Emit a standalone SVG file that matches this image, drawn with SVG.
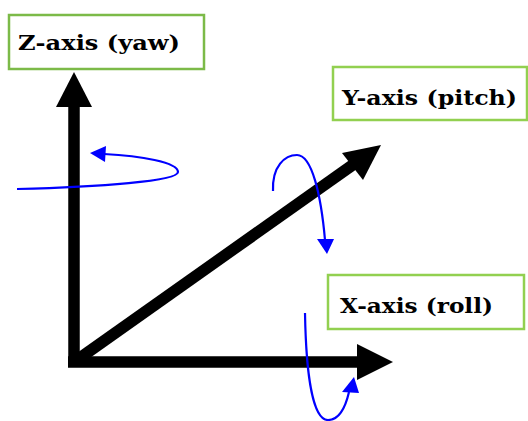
<svg xmlns="http://www.w3.org/2000/svg" width="528" height="421" viewBox="0 0 528 421">
<style>
.box{fill:#fff;stroke-width:2.5}
.lbl{font-family:"DejaVu Serif","Liberation Serif",serif;font-size:21px;font-weight:bold;fill:#000}
.axis{stroke:#000;stroke-width:11.5;fill:none}
.head{fill:#000}
.rot{stroke:#0000ff;stroke-width:2.2;fill:none}
.rhead{fill:#0000ff}
</style>
<rect width="528" height="421" fill="#fff"/>
<g id="connectors">
  <line class="axis" x1="74" y1="367" x2="74" y2="104"/>
  <line class="axis" x1="68" y1="362" x2="359" y2="362"/>
  <line class="axis" x1="77" y1="360" x2="354" y2="164"/>
  <polygon class="head" points="74,72 56,107 92,107"/>
  <polygon class="head" points="393,362 357,344 357,380"/>
  <polygon class="head" points="381,145 342,153 363,180"/>
</g>
<g id="yaw-rotation">
  <path class="rot" d="M17,189 C100,187 178,181 178,172 C178,162 140,156 104,154"/>
  <polygon class="rhead" points="90,153 106,146 105,162"/>
</g>
<g id="pitch-rotation">
  <path class="rot" d="M273,191 C272,166 285,155 297,155 C312,155 321,195 325,240"/>
  <polygon class="rhead" points="327,254 317,239 334,239"/>
</g>
<g id="roll-rotation">
  <path class="rot" d="M305,313 C306,370 312,420 328,420 C340,420 346,405 349,392"/>
  <polygon class="rhead" points="354,377 342,392 359,393"/>
</g>
<g id="z-label">
  <rect class="box" x="9" y="15" width="195" height="54" stroke="#7cba48"/>
  <text class="lbl" x="18" y="50" textLength="162" lengthAdjust="spacingAndGlyphs">Z-axis (yaw)</text>
</g>
<g id="y-label">
  <rect class="box" x="333" y="67" width="194" height="53" stroke="#92d050"/>
  <text class="lbl" x="342" y="105" textLength="175" lengthAdjust="spacingAndGlyphs">Y-axis (pitch)</text>
</g>
<g id="x-label">
  <rect class="box" x="328" y="275" width="196" height="54" stroke="#92d050"/>
  <text class="lbl" x="340" y="313" textLength="153" lengthAdjust="spacingAndGlyphs">X-axis (roll)</text>
</g>
</svg>
